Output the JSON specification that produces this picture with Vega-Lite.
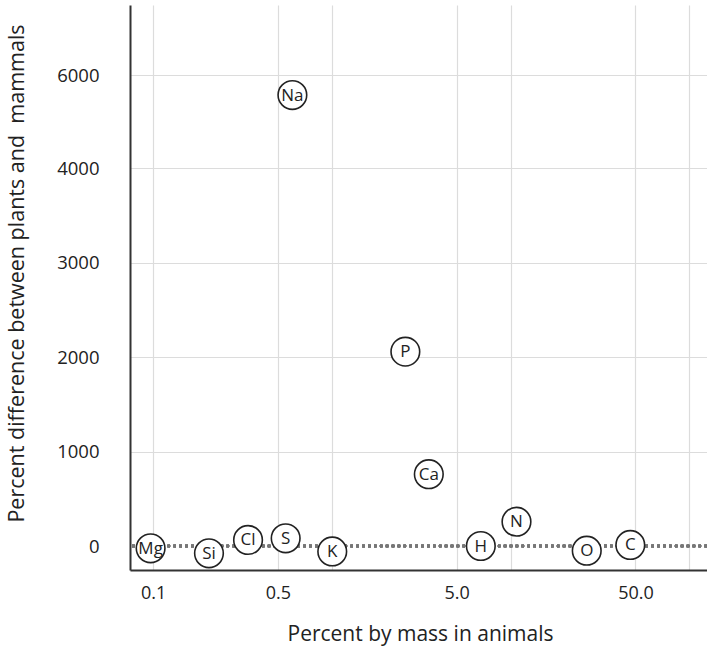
{
  "$schema": "https://vega.github.io/schema/vega-lite/v6.json",
  "autosize": {"type": "none"},
  "padding": {"left": 130, "top": 5, "right": 0, "bottom": 77},
  "width": 577,
  "height": 565,
  "background": "white",
  "config": {
    "font": "Open Sans",
    "view": {"stroke": null},
    "axis": {
      "labelFont": "Open Sans",
      "titleFont": "Open Sans",
      "labelColor": "#222",
      "titleColor": "#222",
      "titleFontWeight": "normal",
      "domainColor": "#333",
      "domainWidth": 2,
      "ticks": false,
      "tickSize": 0,
      "gridColor": "#dcdcdc",
      "gridWidth": 1.2
    }
  },
  "data": {
    "values": [
      {"element": "Mg", "animal_pct": 0.0969, "diff_pct": -24},
      {"element": "Si", "animal_pct": 0.2055, "diff_pct": -77},
      {"element": "Cl", "animal_pct": 0.34, "diff_pct": 64},
      {"element": "S", "animal_pct": 0.552, "diff_pct": 82},
      {"element": "K", "animal_pct": 1.006, "diff_pct": -58},
      {"element": "H", "animal_pct": 6.82, "diff_pct": 0},
      {"element": "N", "animal_pct": 10.8, "diff_pct": 257},
      {"element": "O", "animal_pct": 26.7, "diff_pct": -50},
      {"element": "C", "animal_pct": 46.8, "diff_pct": 11},
      {"element": "Na", "animal_pct": 0.602, "diff_pct": 5571},
      {"element": "P", "animal_pct": 2.58, "diff_pct": 2058},
      {"element": "Ca", "animal_pct": 3.49, "diff_pct": 760}
    ]
  },
  "encoding": {
    "x": {
      "field": "animal_pct",
      "type": "quantitative",
      "scale": {"type": "log", "domain": [0.0743, 125.7], "nice": false},
      "axis": {
        "title": "Percent by mass in animals",
        "values": [0.1, 0.5, 1, 5, 10, 50, 100],
        "labelExpr": "(datum.value == 1 || datum.value == 10 || datum.value == 100) ? '' : format(datum.value, '.1f')",
        "labelFontSize": 18,
        "labelPadding": 14,
        "titleFontSize": 21,
        "titleX": 290,
        "titleY": 70,
        "titleBaseline": "alphabetic",
        "titleAlign": "center"
      }
    },
    "y": {
      "field": "diff_pct",
      "type": "quantitative",
      "scale": {
        "domain": [-254, 0, 4000, 6000, 7500],
        "range": [565, 541, 163.3, 70, 0],
        "zero": false,
        "nice": false
      },
      "axis": {
        "title": "Percent difference between plants and \u00a0mammals",
        "values": [0, 1000, 2000, 3000, 4000, 6000],
        "format": "d",
        "labelFontSize": 18.5,
        "labelPadding": 31,
        "gridOpacity": {"condition": {"test": "datum.value === 0", "value": 0}, "value": 1},
        "titleFontSize": 21.5,
        "titleAngle": -90,
        "titleX": -124,
        "titleY": 268,
        "titleAlign": "center",
        "titleBaseline": "top"
      }
    }
  },
  "layer": [
    {
      "mark": {"type": "rule", "color": "#777", "strokeWidth": 2.6, "strokeDash": [2.6, 3.3]},
      "encoding": {"y": {"datum": 0}, "x": null}
    },
    {
      "mark": {"type": "point", "shape": "circle", "filled": true, "fill": "white", "fillOpacity": 1, "stroke": "#222", "strokeWidth": 1.6, "size": 820, "opacity": 1}
    },
    {
      "mark": {"type": "text", "fontSize": 17, "color": "#222", "align": "center", "baseline": "middle", "dy": 0.5},
      "encoding": {"text": {"field": "element"}}
    }
  ]
}
